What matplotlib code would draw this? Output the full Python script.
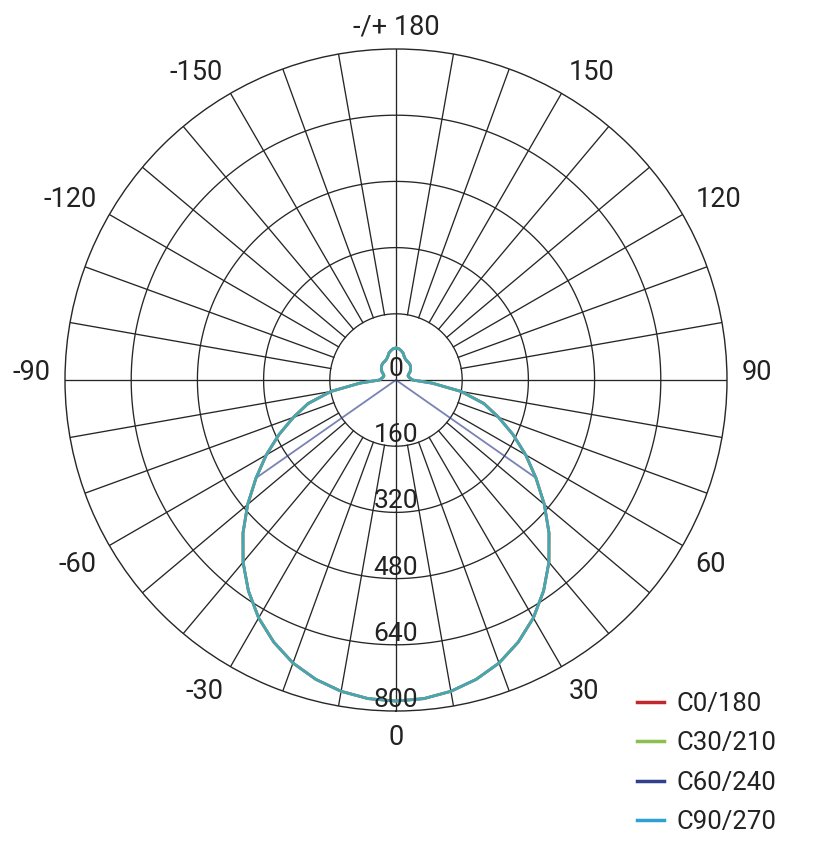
import numpy as np
import matplotlib
matplotlib.use('Agg')
import matplotlib.pyplot as plt
from matplotlib.lines import Line2D
from matplotlib.transforms import offset_copy

plt.rcParams['font.family'] = ['Roboto', 'DejaVu Sans']

# gamma angle (deg, 0 = straight down), values in cd
gamma = [0, 5, 10, 15, 20, 25, 30, 35, 40, 45, 50, 55, 60, 65, 70, 75, 80, 85, 90,
         95, 100, 105, 110, 115, 120, 125, 130, 135, 140, 145, 150, 155, 160, 165, 170, 175, 180]

c0_180 = [776, 773, 764, 749, 728, 699, 664, 622, 575, 523, 468, 413, 362, 312, 264, 220, 160, 88, 40,
          36, 33, 31, 31, 34, 39, 43, 46, 49, 51, 52, 53, 55, 59, 67, 72, 76, 77]
c30_210 = [776, 773, 764, 749, 728, 699, 664, 622, 575, 523, 468, 413, 362, 312, 264, 220, 160, 88, 40,
           36, 33, 31, 31, 34, 39, 43, 46, 49, 51, 52, 53, 55, 59, 67, 72, 76, 77]
c60_240 = [776, 773, 764, 749, 728, 699, 664, 622, 575, 523, 468, 413, 0, 0, 0, 0, 0, 0, 0,
           0, 0, 0, 0, 0, 0, 0, 0, 0, 0, 0, 0, 0, 0, 0, 0, 0, 0]
c90_270 = [776, 773, 764, 749, 728, 699, 664, 622, 575, 523, 468, 413, 362, 312, 264, 220, 160, 88, 40,
           36, 33, 31, 31, 34, 39, 43, 46, 49, 51, 52, 53, 55, 59, 67, 72, 76, 77]

labels = ['C0/180', 'C30/210', 'C60/240', 'C90/270']
colors = ['#c0282d', '#8cbf50', '#323f8a', '#2fa0d6']

rings = [160, 320, 480, 640, 800]
ring_labels = ['0', '160', '320', '480', '640', '800']
angle_ticks = [0, 30, 60, 90, 120, 150, 180, -150, -120, -90, -60, -30]
angle_labels = ['0', '30', '60', '90', '120', '150', '-/+ 180', '-150', '-120', '-90', '-60', '-30']

grid_col = '#262626'
text_col = '#222222'


def mirrored(vals):
    # same curve on both halves (C0 right, C180 left)
    g = np.array(gamma, dtype=float)
    v = np.array(vals, dtype=float)
    th = np.deg2rad(np.r_[-g[::-1], g[1:]])
    r = np.r_[v[::-1], v[1:]]
    return th, r


fig = plt.figure(figsize=(8.26, 8.59), dpi=100)
ax = fig.add_axes([65 / 826, 148 / 859, 662 / 826, 662 / 859], projection='polar')
ax.set_theta_zero_location('S')
ax.set_theta_direction(1)
ax.set_ylim(0, 800)
ax.grid(False)
ax.set_xticks([])
ax.set_yticks([])
ax.spines['polar'].set_color(grid_col)
ax.spines['polar'].set_linewidth(1.0)

# grid: rings and radial lines
t = np.linspace(0, 2 * np.pi, 721)
for rr in rings[:-1]:
    ax.plot(t, np.full_like(t, rr), color=grid_col, lw=0.95, zorder=1)
for a in range(0, 360, 10):
    start = 0 if a % 90 == 0 else rings[0]
    ax.plot([np.deg2rad(a)] * 2, [start, 800], color=grid_col, lw=0.95, zorder=1)

# curves (C60 carries the cut-off after 55 deg)
th, r = mirrored(c0_180)
ax.plot(th, r, color=colors[0], lw=2.0, zorder=3)
th, r = mirrored(c60_240)
ax.plot(th, r, color=colors[2], lw=1.3, alpha=0.65, zorder=3)
th, r = mirrored(c30_210)
ax.plot(th, r, color=colors[1], lw=2.0, zorder=4)
th, r = mirrored(c90_270)
ax.plot(th, r, color=colors[3], lw=2.0, alpha=0.75, zorder=5)

# ring values along the 0 direction, sitting just above each ring
ring_tr = offset_copy(ax.transData, fig=fig, x=0, y=4, units='dots')
for v, lab in zip([0] + rings, ring_labels):
    ax.text(0, v, lab, ha='center', va='baseline', fontsize=19,
            color=text_col, zorder=6, transform=ring_tr)

# angle labels: anchored on the side facing the circle
for a, lab in zip(angle_ticks, angle_labels):
    s, c = np.sin(np.deg2rad(a)), np.cos(np.deg2rad(a))
    ha = 'left' if s > 0.01 else ('right' if s < -0.01 else 'center')
    dy = -19 if c > 0.01 else 0   # lower half: hang the digits below the anchor
    tr = offset_copy(ax.transData, fig=fig, x=0, y=dy, units='dots')
    ax.text(np.deg2rad(a), 836, lab, ha=ha, va='baseline', fontsize=19.5,
            color=text_col, clip_on=False, transform=tr)

handles = [Line2D([], [], color=c, lw=2.5) for c in colors]
fig.legend(handles, labels, loc='upper left', bbox_to_anchor=(637 / 826, 1 - 692 / 859),
           frameon=False, fontsize=18.5, handlelength=1.05, handletextpad=0.47,
           labelspacing=0.6, borderpad=0, borderaxespad=0, labelcolor=text_col)

fig.savefig('out.png', dpi=100, facecolor='white')
